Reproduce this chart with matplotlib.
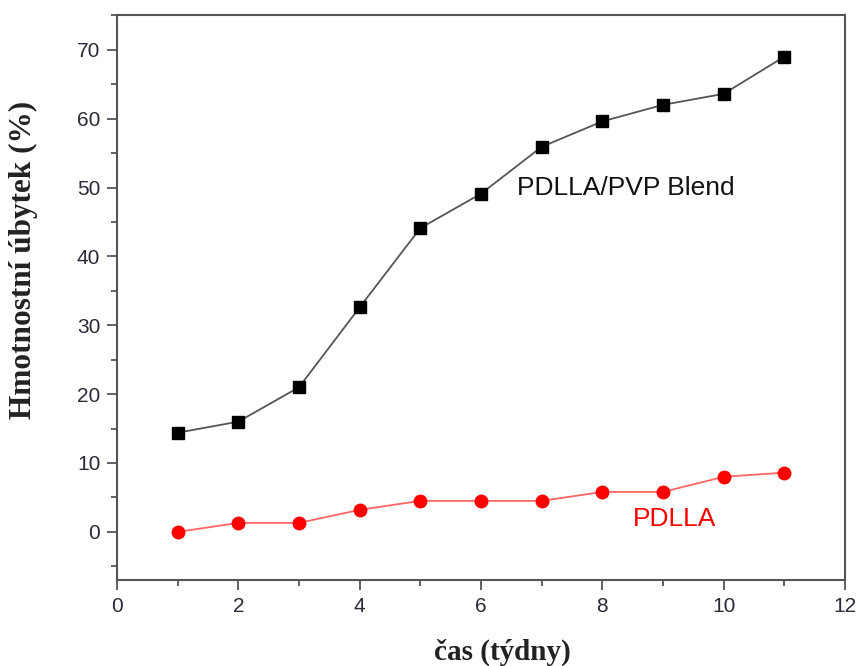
import matplotlib
matplotlib.use("Agg")
import matplotlib.pyplot as plt
from matplotlib.ticker import MultipleLocator

weeks = [1, 2, 3, 4, 5, 6, 7, 8, 9, 10, 11]
blend = [14.4, 16.0, 21.0, 32.6, 44.1, 49.1, 55.9, 59.6, 62.0, 63.6, 69.0]
pdlla = [0.0, 1.3, 1.3, 3.2, 4.5, 4.5, 4.5, 5.8, 5.8, 8.0, 8.6]

fig = plt.figure(figsize=(8.57, 6.66), dpi=100)
ax = fig.add_axes([0.1365, 0.129, 0.8495, 0.848])

ax.plot(weeks, blend, color="#555555", lw=1.3, marker="s", ms=8,
        mfc="black", mec="black", zorder=3)
ax.plot(weeks, pdlla, color="#ff6666", lw=1.3, marker="o", ms=9,
        mfc="#ff0000", mec="#ff0000", zorder=3)

ax.text(6.59, 50, "PDLLA/PVP Blend", fontsize=19, family="Liberation Sans",
        color="#111111", va="center", ha="left")
ax.text(8.5, 1.8, "PDLLA", fontsize=19, family="Liberation Sans",
        color="#ff0000", va="center", ha="left")

ax.set_xlim(0, 12)
ax.set_ylim(-7, 75)
ax.xaxis.set_major_locator(MultipleLocator(2))
ax.xaxis.set_minor_locator(MultipleLocator(1))
ax.yaxis.set_major_locator(MultipleLocator(10))
ax.yaxis.set_minor_locator(MultipleLocator(5))
ax.tick_params(which="major", direction="out", length=7, width=1.3,
               color="#555555", labelsize=15, labelcolor="#2a2a38", pad=5)
ax.tick_params(which="minor", direction="out", length=4, width=1.3, color="#555555")
for lab in ax.get_xticklabels() + ax.get_yticklabels():
    lab.set_family("Liberation Sans")
for s in ax.spines.values():
    s.set_color("#555555")
    s.set_linewidth(1.5)

ax.set_xlabel("čas (týdny)", family="Liberation Serif", fontweight="bold",
              fontsize=21, color="#222222")
ax.xaxis.set_label_coords(0.529, -0.103)
ax.set_ylabel("Hmotnostní úbytek (%)", family="Liberation Serif", fontweight="bold",
              fontsize=22.5, color="#222222")
ax.yaxis.set_label_coords(-0.1085, 0.566)

fig.savefig("out.png", dpi=100)
